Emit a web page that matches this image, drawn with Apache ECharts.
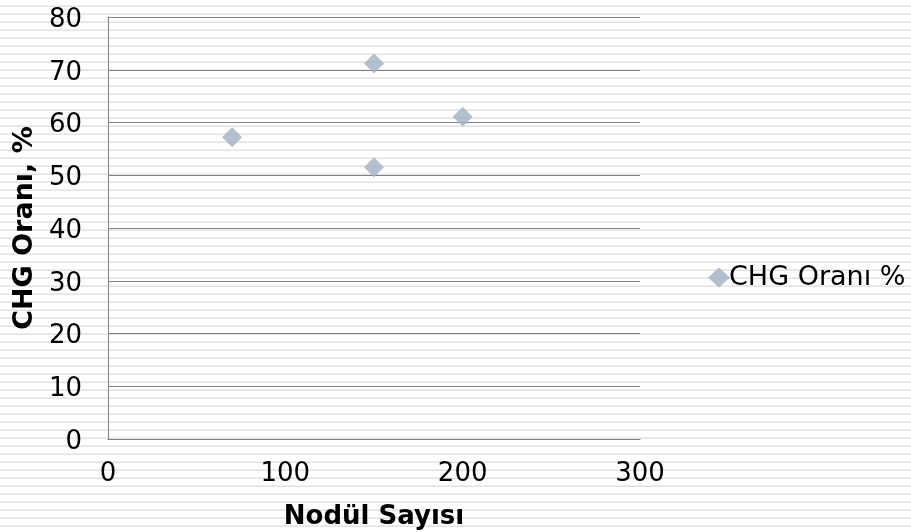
<!DOCTYPE html>
<html>
<head>
<meta charset="utf-8">
<script src="https://cdn.jsdelivr.net/npm/echarts@6/dist/echarts.min.js"></script>
<style>
html,body{margin:0;padding:0;}
#chart{width:911px;height:532px;
background:repeating-linear-gradient(to bottom,#ffffff 0px,#ffffff 5px,#eeeeee 5px,#eeeeee 6px,#e3e3e3 6px,#e3e3e3 7px,#ffffff 7px,#ffffff 8px);}
</style>
</head>
<body>
<div id="chart"></div>
<script>
const seriesName = 'CHG Oranı %';
const nodulSayisi = [70, 150, 200, 150];
const chgOrani = [57.2, 71.2, 61.1, 51.5];
const xTitle = 'Nodül Sayısı';
const yTitle = 'CHG Oranı, %';

const points = nodulSayisi.map((x, i) => [x, chgOrani[i]]);
const font = 'Verdana, "DejaVu Sans", sans-serif';
const chart = echarts.init(document.getElementById('chart'), null, {renderer: 'canvas'});
chart.setOption({
  backgroundColor: 'transparent',
  animation: false,
  textStyle: {fontFamily: font},
  grid: {left: 108, right: 271, top: 17, bottom: 93, containLabel: false, outerBoundsMode: 'none'},
  legend: {
    show: true,
    orient: 'vertical',
    left: 703, top: 259,
    itemWidth: 22, itemHeight: 20, itemGap: 4,
    icon: 'diamond',
    textStyle: {fontSize: 27, color: '#000', fontFamily: font, padding: [0,0,0,-6]},
    data: [seriesName]
  },
  xAxis: {
    type: 'value', min: 0, max: 300, interval: 100,
    name: xTitle, nameLocation: 'middle', nameGap: 65,
    nameTextStyle: {fontSize: 26, fontWeight: 'bold', color: '#000', fontFamily: font},
    axisLine: {show: true, lineStyle: {color: '#808080', width: 1}},
    axisTick: {show: false},
    axisLabel: {fontSize: 26, color: '#000', margin: 22, fontFamily: font},
    splitLine: {show: false}
  },
  yAxis: {
    type: 'value', min: 0, max: 80, interval: 10,
    name: yTitle, nameLocation: 'middle', nameGap: 68, nameRotate: 90,
    nameTextStyle: {fontSize: 27, fontWeight: 'bold', color: '#000', fontFamily: font},
    axisLine: {show: true, lineStyle: {color: '#808080', width: 1}},
    axisTick: {show: false},
    axisLabel: {
      color: '#000', margin: 26,
      formatter: '{v|{value}}',
      rich: {v: {fontSize: 26, color: '#000', fontFamily: font, padding: [6, 0, 0, 0]}}
    },
    splitLine: {show: true, lineStyle: {color: '#808080', width: 1}}
  },
  series: [{
    name: seriesName,
    type: 'scatter',
    symbol: 'diamond',
    symbolSize: 20,
    itemStyle: {color: '#a0b0c2'},
    data: points
  }]
});
</script>
</body>
</html>
